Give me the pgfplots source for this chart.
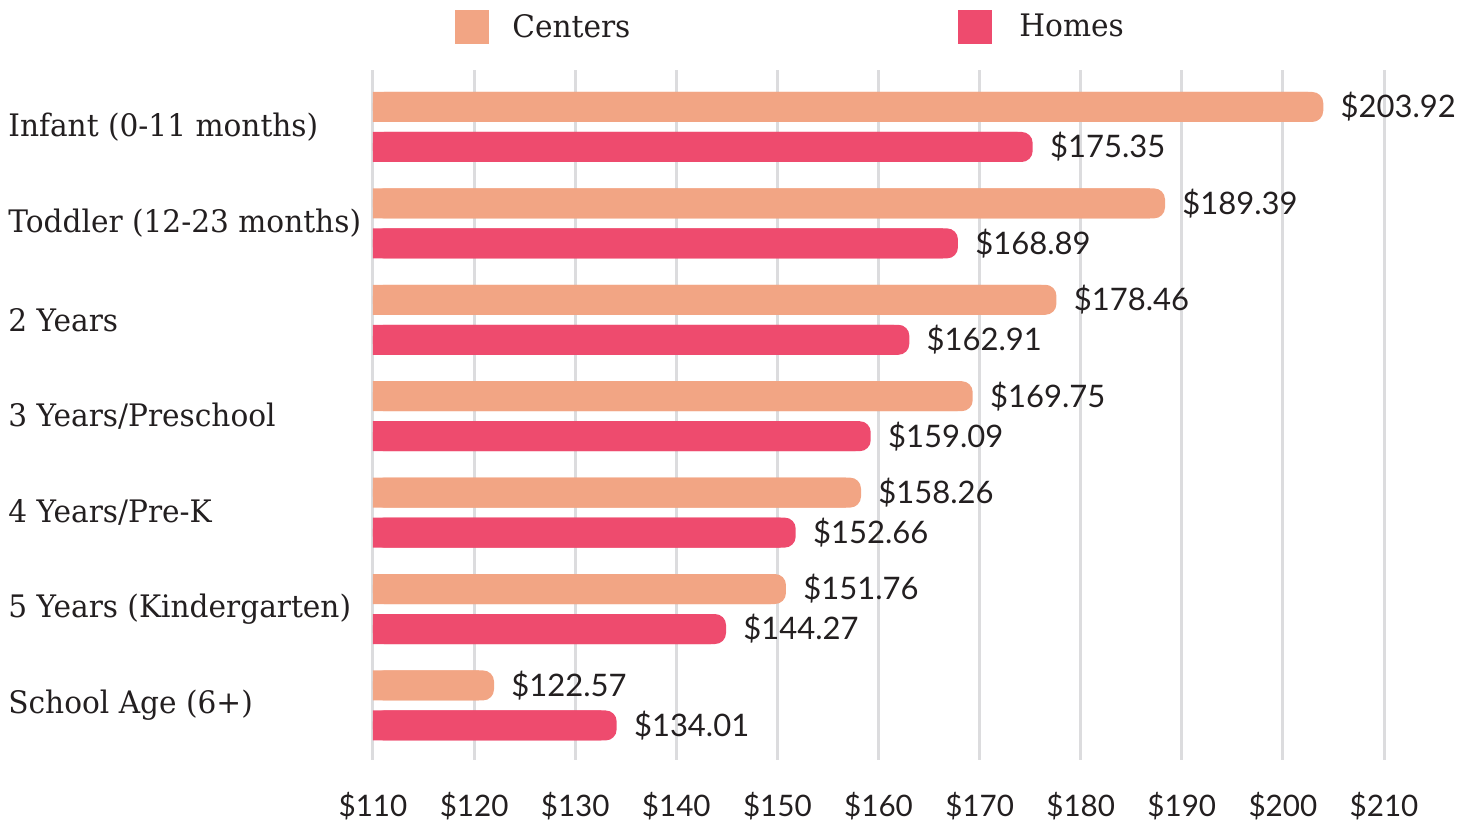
\documentclass[border=0pt]{standalone}
\usepackage{pgfplots}
\usepackage{pgfplotstable}
\pgfplotsset{compat=1.18}
\usepackage{fontspec}
\setmainfont{Lato}
\newfontfamily\slab[FakeStretch=0.955]{DejaVu Serif}
\definecolor{ccent}{RGB}{242,165,132}
\definecolor{chome}{RGB}{238,75,110}
\definecolor{cgrid}{RGB}{220,220,222}
\definecolor{ctext}{RGB}{35,31,32}
% bar length as drawn, and the printed label
\pgfplotstableread{
y       v       lab
6.2075  203.99  203.92
5.2075  188.34  189.39
4.2075  177.60  178.46
3.2075  169.32  169.75
2.2075  158.27  158.26
1.2075  150.85  151.76
0.2075  121.97  122.57
}\centers
\pgfplotstableread{
y       v       lab
5.7925  175.25  175.35
4.7925  167.86  168.89
3.7925  163.05  162.91
2.7925  159.23  159.09
1.7925  151.81  152.66
0.7925  144.92  144.27
-0.2075 134.10  134.01
}\homes
\begin{document}
\begin{tikzpicture}
\begin{axis}[
  scale only axis,
  width=505.5pt, height=345pt,
  xmin=110, xmax=210, ymin=-0.566, ymax=6.591,
  xtick={110,120,...,210},
  xticklabels={\$110,\$120,\$130,\$140,\$150,\$160,\$170,\$180,\$190,\$200,\$210},
  ytick={0,1,2,3,4,5,6},
  yticklabels={School Age (6+),5 Years (Kindergarten),4 Years/Pre-K,3 Years/Preschool,2 Years,Toddler (12-23 months),Infant (0-11 months)},
  xmajorgrids,
  grid style={line width=1.5pt, cgrid},
  axis line style={draw=none},
  major tick length=0pt,
  tick style={draw=none},
  xticklabel style={font=\fontsize{14.8}{18}\selectfont, text=ctext, anchor=center, yshift=-23pt},
  yticklabel style={font=\slab\fontsize{15.5}{18}\selectfont, text=ctext, anchor=west, inner sep=0pt, xshift=-182.5pt},
  xbar, bar shift=0pt, bar width=15pt,
  every axis plot/.append style={draw=none},
  legend columns=2,
  legend style={at={(rel axis cs:0.0811,1.0623)}, anchor=west, draw=none, inner sep=0pt,
    font=\slab\fontsize{15.5}{18}\selectfont, text=ctext,
    nodes={inner sep=0pt},
    /tikz/every even column/.append style={column sep=164pt}},
  lab/.style={rounded corners=5.5pt,
    point meta=explicit symbolic,
    nodes near coords={\$\pgfplotspointmeta},
    every node near coord/.append style={font=\fontsize{15.5}{18}\selectfont, text=ctext, anchor=west, inner sep=0pt, xshift=8.5pt}},
]
\addplot[fill=ccent, lab, legend image code/.code={\fill[ccent,sharp corners] (0pt,-8.5pt) rectangle (17pt,8.5pt); \path (28.5pt,0pt);}]
  table[x=v, y=y, meta=lab] {\centers};
\addlegendentry{Centers}
\addplot[fill=ccent, forget plot] table[x expr=\thisrow{v}-1.5, y=y] {\centers};
\addplot[fill=chome, lab, legend image code/.code={\fill[chome,sharp corners] (0pt,-8.5pt) rectangle (17pt,8.5pt); \path (30.5pt,0pt);}]
  table[x=v, y=y, meta=lab] {\homes};
\addlegendentry{Homes}
\addplot[fill=chome, forget plot] table[x expr=\thisrow{v}-1.5, y=y] {\homes};
\end{axis}
\pgfresetboundingbox
\path (current axis.south west) ++(-186.5pt,-31pt);
\path (current axis.north east) ++(46pt,35pt);
\end{tikzpicture}
\end{document}
